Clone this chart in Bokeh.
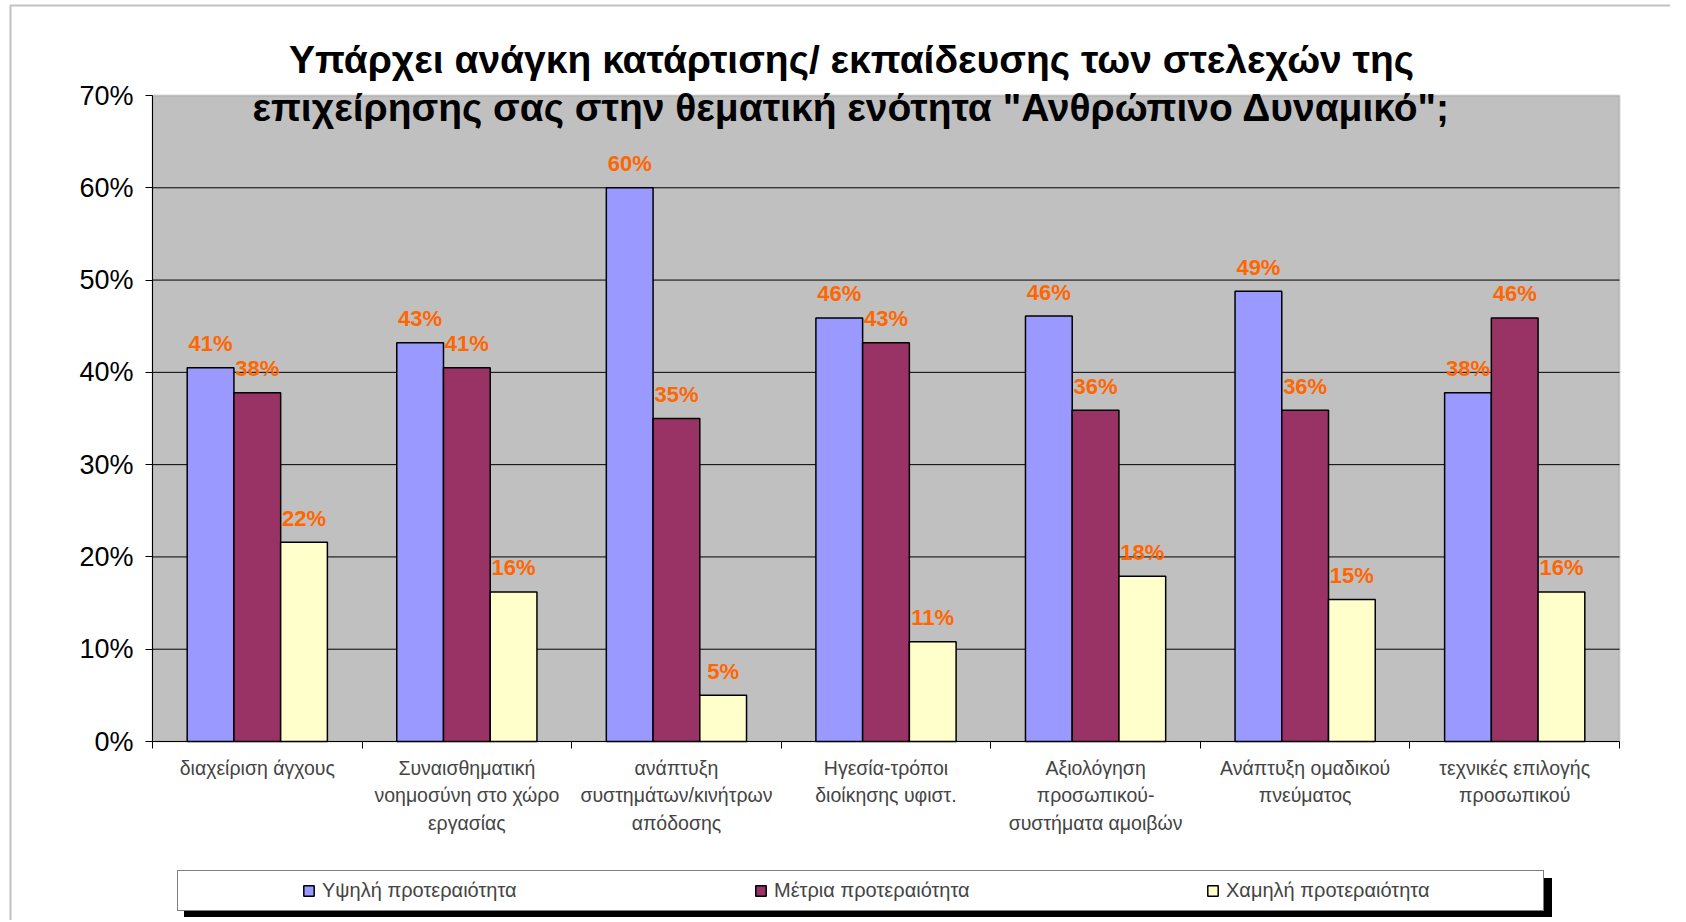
from bokeh.plotting import figure
from bokeh.models import (ColumnDataSource, Range1d, FixedTicker, PrintfTickFormatter,
                          Legend, LegendItem, Label, BoxAnnotation)
from bokeh.core.properties import value
from bokeh.embed import file_html
from bokeh.resources import INLINE

# ---------------- data ----------------
categories = [
    "διαχείριση άγχους",
    "Συναισθηματική\nνοημοσύνη στο χώρο\nεργασίας",
    "ανάπτυξη\nσυστημάτων/κινήτρων\nαπόδοσης",
    "Ηγεσία-τρόποι\nδιοίκησης υφιστ.",
    "Αξιολόγηση\nπροσωπικού-\nσυστήματα αμοιβών",
    "Ανάπτυξη ομαδικού\nπνεύματος",
    "τεχνικές επιλογής\nπροσωπικού",
]
series_names = ["Υψηλή προτεραιότητα", "Μέτρια προτεραιότητα", "Χαμηλή προτεραιότητα"]
high = [40.5, 43.2, 60.0, 45.9, 46.1, 48.8, 37.8]
medium = [37.8, 40.5, 35.0, 43.2, 35.9, 35.9, 45.9]
low = [21.6, 16.2, 5.0, 10.8, 17.9, 15.4, 16.2]
y_ticks = [0, 10, 20, 30, 40, 50, 60, 70]
title_lines = [
    "Υπάρχει ανάγκη κατάρτισης/ εκπαίδευσης των στελεχών της",
    "επιχείρησης σας στην θεματική ενότητα \"Ανθρώπινο Δυναμικό\";",
]

colors = ["#9999FF", "#993366", "#FFFFCC"]
FONT = "Liberation Sans"

# ---------------- layout (pixels on the canvas) ----------------
W, H = 1670, 920
PL, PR, PT, PB = 152, 1619, 95, 741          # grey plot area

n = len(categories)
x_lo, x_hi = 0.5, n + 0.5
y_lo, y_hi = y_ticks[0], y_ticks[-1]
kx = (PR - PL) / (x_hi - x_lo)
ky = (PB - PT) / (y_hi - y_lo)
x_start = x_lo - PL / kx
x_end = x_start + W / kx
y_end = y_hi + PT / ky
y_start = y_end - H / ky


def X(px):
    return x_start + px / kx


def Y(py):
    return y_end - py / ky


p = figure(width=W, height=H,
           x_range=Range1d(x_start, x_end), y_range=Range1d(y_start, y_end),
           output_backend="svg", toolbar_location=None,
           min_border=0, min_border_left=0, min_border_right=0,
           min_border_top=0, min_border_bottom=0)
p.background_fill_color = "white"
p.border_fill_color = "white"
p.outline_line_color = None
p.xgrid.visible = False
p.ygrid.visible = False

# outer chart border (left and top edges visible)
p.add_layout(BoxAnnotation(left=X(10), right=X(W + 200), top=Y(5), bottom=Y(H + 200),
                           fill_alpha=0, line_color="#333333", line_width=2, level="underlay"))
# grey plot area
p.add_layout(BoxAnnotation(left=x_lo, right=x_hi, bottom=y_lo, top=y_hi,
                           fill_color="#C0C0C0", fill_alpha=1,
                           line_color="#808080", line_width=2, level="underlay"))

# horizontal grid lines
gy = y_ticks[1:-1]
p.segment(x0=[x_lo] * len(gy), x1=[x_hi] * len(gy), y0=gy, y1=gy,
          line_color="black", line_width=1)

# y axis
yax = p.yaxis[0]
yax.fixed_location = x_lo
yax.bounds = (y_lo, y_hi)
yax.ticker = FixedTicker(ticks=y_ticks)
yax.formatter = PrintfTickFormatter(format="%d%%")
yax.major_label_text_font = FONT
yax.major_label_text_font_size = "27px"
yax.major_label_text_color = "black"
yax.major_tick_out = 7
yax.major_tick_in = 0
yax.minor_tick_line_color = None
yax.major_label_standoff = 12
yax.axis_line_color = "black"

# x axis: labels at category centres, tick marks at boundaries
centers = list(range(1, n + 1))
xax = p.xaxis[0]
xax.fixed_location = y_lo
xax.bounds = (x_lo, x_hi)
xax.ticker = FixedTicker(ticks=centers, minor_ticks=[c - 0.5 for c in centers] + [n + 0.5])
xax.major_label_overrides = {c: lab for c, lab in zip(centers, categories)}
xax.major_tick_line_color = None
xax.major_tick_out = 0
xax.major_tick_in = 0
xax.minor_tick_out = 7
xax.minor_tick_in = 0
xax.minor_tick_line_color = "black"
xax.major_label_text_font = FONT
xax.major_label_text_font_size = "19.5px"
xax.major_label_text_line_height = 1.27
xax.major_label_standoff = 8
xax.axis_line_color = "black"

bar_w = 0.223
offsets = [-bar_w, 0.0, bar_w]
renderers = []
for vals, col, off in zip([high, medium, low], colors, offsets):
    src = ColumnDataSource(dict(
        x=[c + off for c in centers],
        top=vals,
        label=[f"{int(v + 0.5)}%" for v in vals],
    ))
    r = p.vbar(x="x", top="top", bottom=0, width=bar_w, source=src,
               fill_color=col, line_color="black", line_width=1.5)
    renderers.append(r)
    p.text(x="x", y="top", text="label", source=src,
           text_font=value(FONT), text_font_size="22px", text_font_style="bold",
           text_color="#FF6600", text_align="center", text_baseline="alphabetic",
           y_offset=-24)

# title (second line overlaps the plot area like the original)
for line, py in zip(title_lines, [59, 107]):
    p.add_layout(Label(x=X(851), y=Y(py), text=line,
                       text_align="center", text_baseline="middle",
                       text_font=FONT, text_font_size="39px", text_font_style="bold",
                       text_color="black"))

# legend with black drop shadow
dummy = p.scatter(x=[], y=[], size=1, alpha=0)
common = dict(orientation="horizontal", padding=8, glyph_width=13, glyph_height=13,
              label_standoff=7, label_height=21,
              label_text_font=FONT, label_text_font_size="20px",
              title="\u00a0", title_location="left", title_text_font_size="1px",
              title_standoff=115, margin=0, border_line_width=1,
              border_line_color="black", background_fill_alpha=1)
shadow = Legend(items=[LegendItem(label=" ", renderers=[dummy])],
                location=(184, H - 917), spacing=0, label_width=1214,
                background_fill_color="black", **common)
legend = Legend(items=[LegendItem(label=nm, renderers=[r]) for nm, r in zip(series_names, renderers)],
                location=(177, H - 911), spacing=123, label_width=309,
                background_fill_color="white", **common)
p.add_layout(shadow, "center")
p.add_layout(legend, "center")

open("out.html", "w").write(file_html(p, INLINE))
